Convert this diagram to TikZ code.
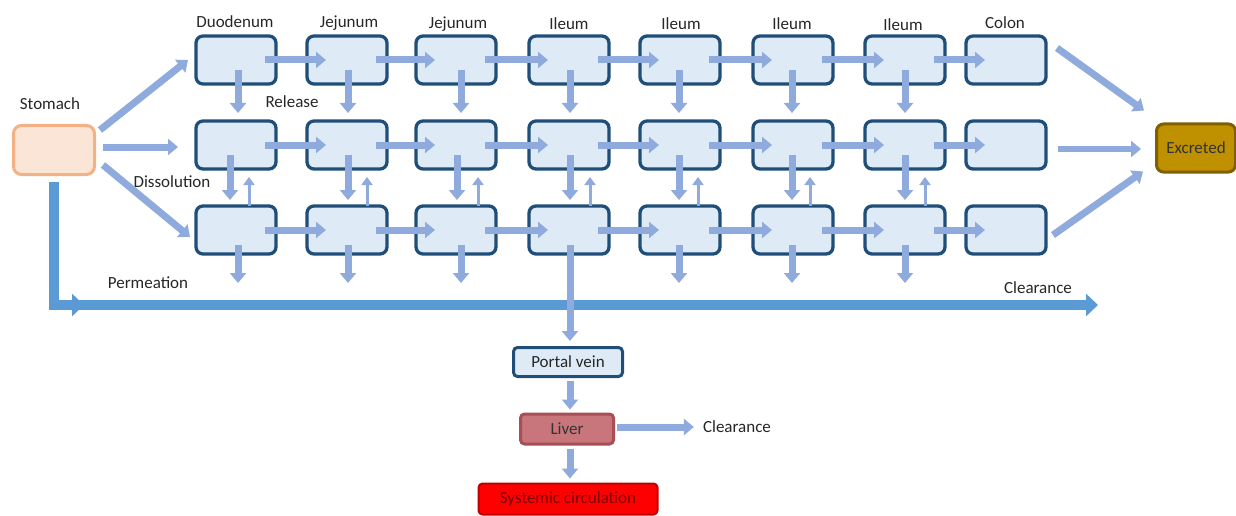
\documentclass[tikz,border=0pt]{standalone}
\usepackage{fontspec}
\setmainfont{Carlito}
\usetikzlibrary{arrows.meta,calc}
\definecolor{boxfill}{HTML}{DEEBF7}
\definecolor{boxdraw}{HTML}{1F4E79}
\definecolor{arr}{HTML}{8FAADC}
\definecolor{perm}{HTML}{5B9BD5}
\definecolor{stofill}{HTML}{FBE5D6}
\definecolor{stodraw}{HTML}{F4B183}
\definecolor{excfill}{HTML}{BF9000}
\definecolor{excdraw}{HTML}{7F6000}
\definecolor{livfill}{HTML}{C8767C}
\definecolor{livdraw}{HTML}{A84E55}
\definecolor{sysfill}{HTML}{FF0000}
\definecolor{sysdraw}{HTML}{C00000}
\definecolor{systext}{HTML}{7F0000}
\begin{document}
\begin{tikzpicture}[x=1pt,y=-1pt,
  every node/.style={font=\fontsize{17}{20}\selectfont, inner sep=0pt},
  cell/.style={draw=boxdraw, fill=boxfill, line width=3.3pt, rounded corners=7pt, minimum width=80pt, minimum height=48pt},
  lbl/.style={text=black!85},
  flow/.style={draw=arr, line width=7pt, -{Triangle[length=10pt,width=16pt]}},
  thinflow/.style={draw=arr, line width=3pt, -{Triangle[length=8pt,width=11pt]}},
  permflow/.style={draw=perm, line width=10pt, -{Triangle[length=12pt,width=22pt]}}
]
\useasboundingbox (0,0) rectangle (1236,516);

% grid of compartments
\foreach \c/\x in {1/236,2/347,3/456,4/569,5/680,6/793,7/905,8/1006}{
  \foreach \r/\y in {1/60,2/145,3/230}{
    \node[cell] (b\r\c) at (\x,\y) {};
  }
}

% column labels
\node[lbl] (l1) at (235,22) {Duodenum};
\node[lbl] (l2) at (349,23) {Jejunum};
\node[lbl] (l3) at (458,24) {Jejunum};
\node[lbl] (l4) at (569,24) {Ileum};
\node[lbl] (l5) at (681,24) {Ileum};
\node[lbl] (l6) at (792,24) {Ileum};
\node[lbl] (l7) at (903,25) {Ileum};
\node[lbl] (l8) at (1005,23) {Colon};

% stomach and excreted
\node[lbl] (stolbl) at (50,104) {Stomach};
\node[draw=stodraw, fill=stofill, line width=3pt, rounded corners=8pt, minimum width=81pt, minimum height=49pt] (sto) at (54,150) {};
\node[draw=excdraw, fill=excfill, line width=3pt, rounded corners=7pt, minimum width=79pt, minimum height=48pt, text=black!80] (exc) at (1196,148) {Excreted};

\node[lbl] (rel) at (292,102) {Release};
\node[lbl] (dis) at (172,182) {Dissolution};
\node[lbl] (perml) at (148,283) {Permeation};
\node[lbl] (cl1) at (1038,288) {Clearance};

% horizontal transit arrows
\foreach \r in {1,2,3}{
  \foreach \c [evaluate=\c as \n using int(\c+1)] in {1,...,7}{
    \draw[flow] ($(b\r\c)+(29,0)$) -- ($(b\r\n)+(-21,0)$);
  }
}

% vertical arrows
\foreach \c/\da/\db/\du in {1/2/-6/13,2/1/1/20,3/5/1/22,4/1/1/21,5/-1/-1/18,6/-1/-1/17,7/0/0/20}{
  \draw[flow] ($(b1\c)+(\da,10)$) -- ($(b2\c)+(\da,-32)$);
  \draw[flow] ($(b2\c)+(\db,10)$) -- ($(b3\c)+(\db,-30)$);
  \draw[thinflow] ($(b3\c)+(\du,-24)$) -- ($(b2\c)+(\du,32)$);
}
\foreach \c/\da in {1/2,2/1,3/5,5/-1,6/-1,7/0}{
  \draw[flow] ($(b3\c)+(\da,15)$) -- ($(b3\c)+(\da,53)$);
}

% stomach to compartments
\draw[flow] ($(sto)+(46,-20)$) -- ($(b11)+(-48,0)$);
\draw[flow] ($(sto)+(49,-3)$) -- ($(b21)+(-58,2)$);
\draw[flow] ($(sto)+(49,15)$) -- ($(b31)+(-46,7)$);

% colon to excreted
\draw[flow] ($(b18)+(51,-12)$) -- ($(exc.north west)+(-11,-12)$);
\draw[flow, line width=6pt] ($(b28)+(52,4)$) -- ($(exc.west)+(-14,1)$);
\draw[flow] ($(b38)+(47,5)$) -- ($(exc.south west)+(-12,-2)$);

% permeation / clearance line
\coordinate (pc) at (84,305);
\coordinate (pend) at (1098,305);
\draw[permflow] ($(sto.south)+(0,6)$) |- (pc);
\draw[permflow] (78,305) -- (pend);

% portal vein, liver, systemic
\node[draw=boxdraw, fill=boxfill, line width=3pt, rounded corners=4pt, minimum width=109pt, minimum height=29pt, text=black!85] (pv) at (568,362) {Portal vein};
\node[draw=livdraw, fill=livfill, line width=3pt, rounded corners=4pt, minimum width=93pt, minimum height=30pt, text=black!80] (liv) at (567,429) {Liver};
\node[draw=sysdraw, fill=sysfill, line width=2pt, rounded corners=4pt, minimum width=179pt, minimum height=31pt, text=systext] (sys) at (568,499) {Systemic circulation};
\node[lbl] (cl2) at (737,427) {Clearance};

\draw[flow] ($(b34)+(1,15)$) -- ($(pv.north)+(2,-5)$);
\draw[flow] ($(pv.south)+(2,3)$) -- ($(liv.north)+(3,-3)$);
\draw[flow] ($(liv.east)+(2,-2)$) -- ($(cl2.west)+(-9,0)$);
\draw[flow] ($(liv.south)+(3,3)$) -- ($(sys.north)+(2,-4)$);
\end{tikzpicture}
\end{document}
